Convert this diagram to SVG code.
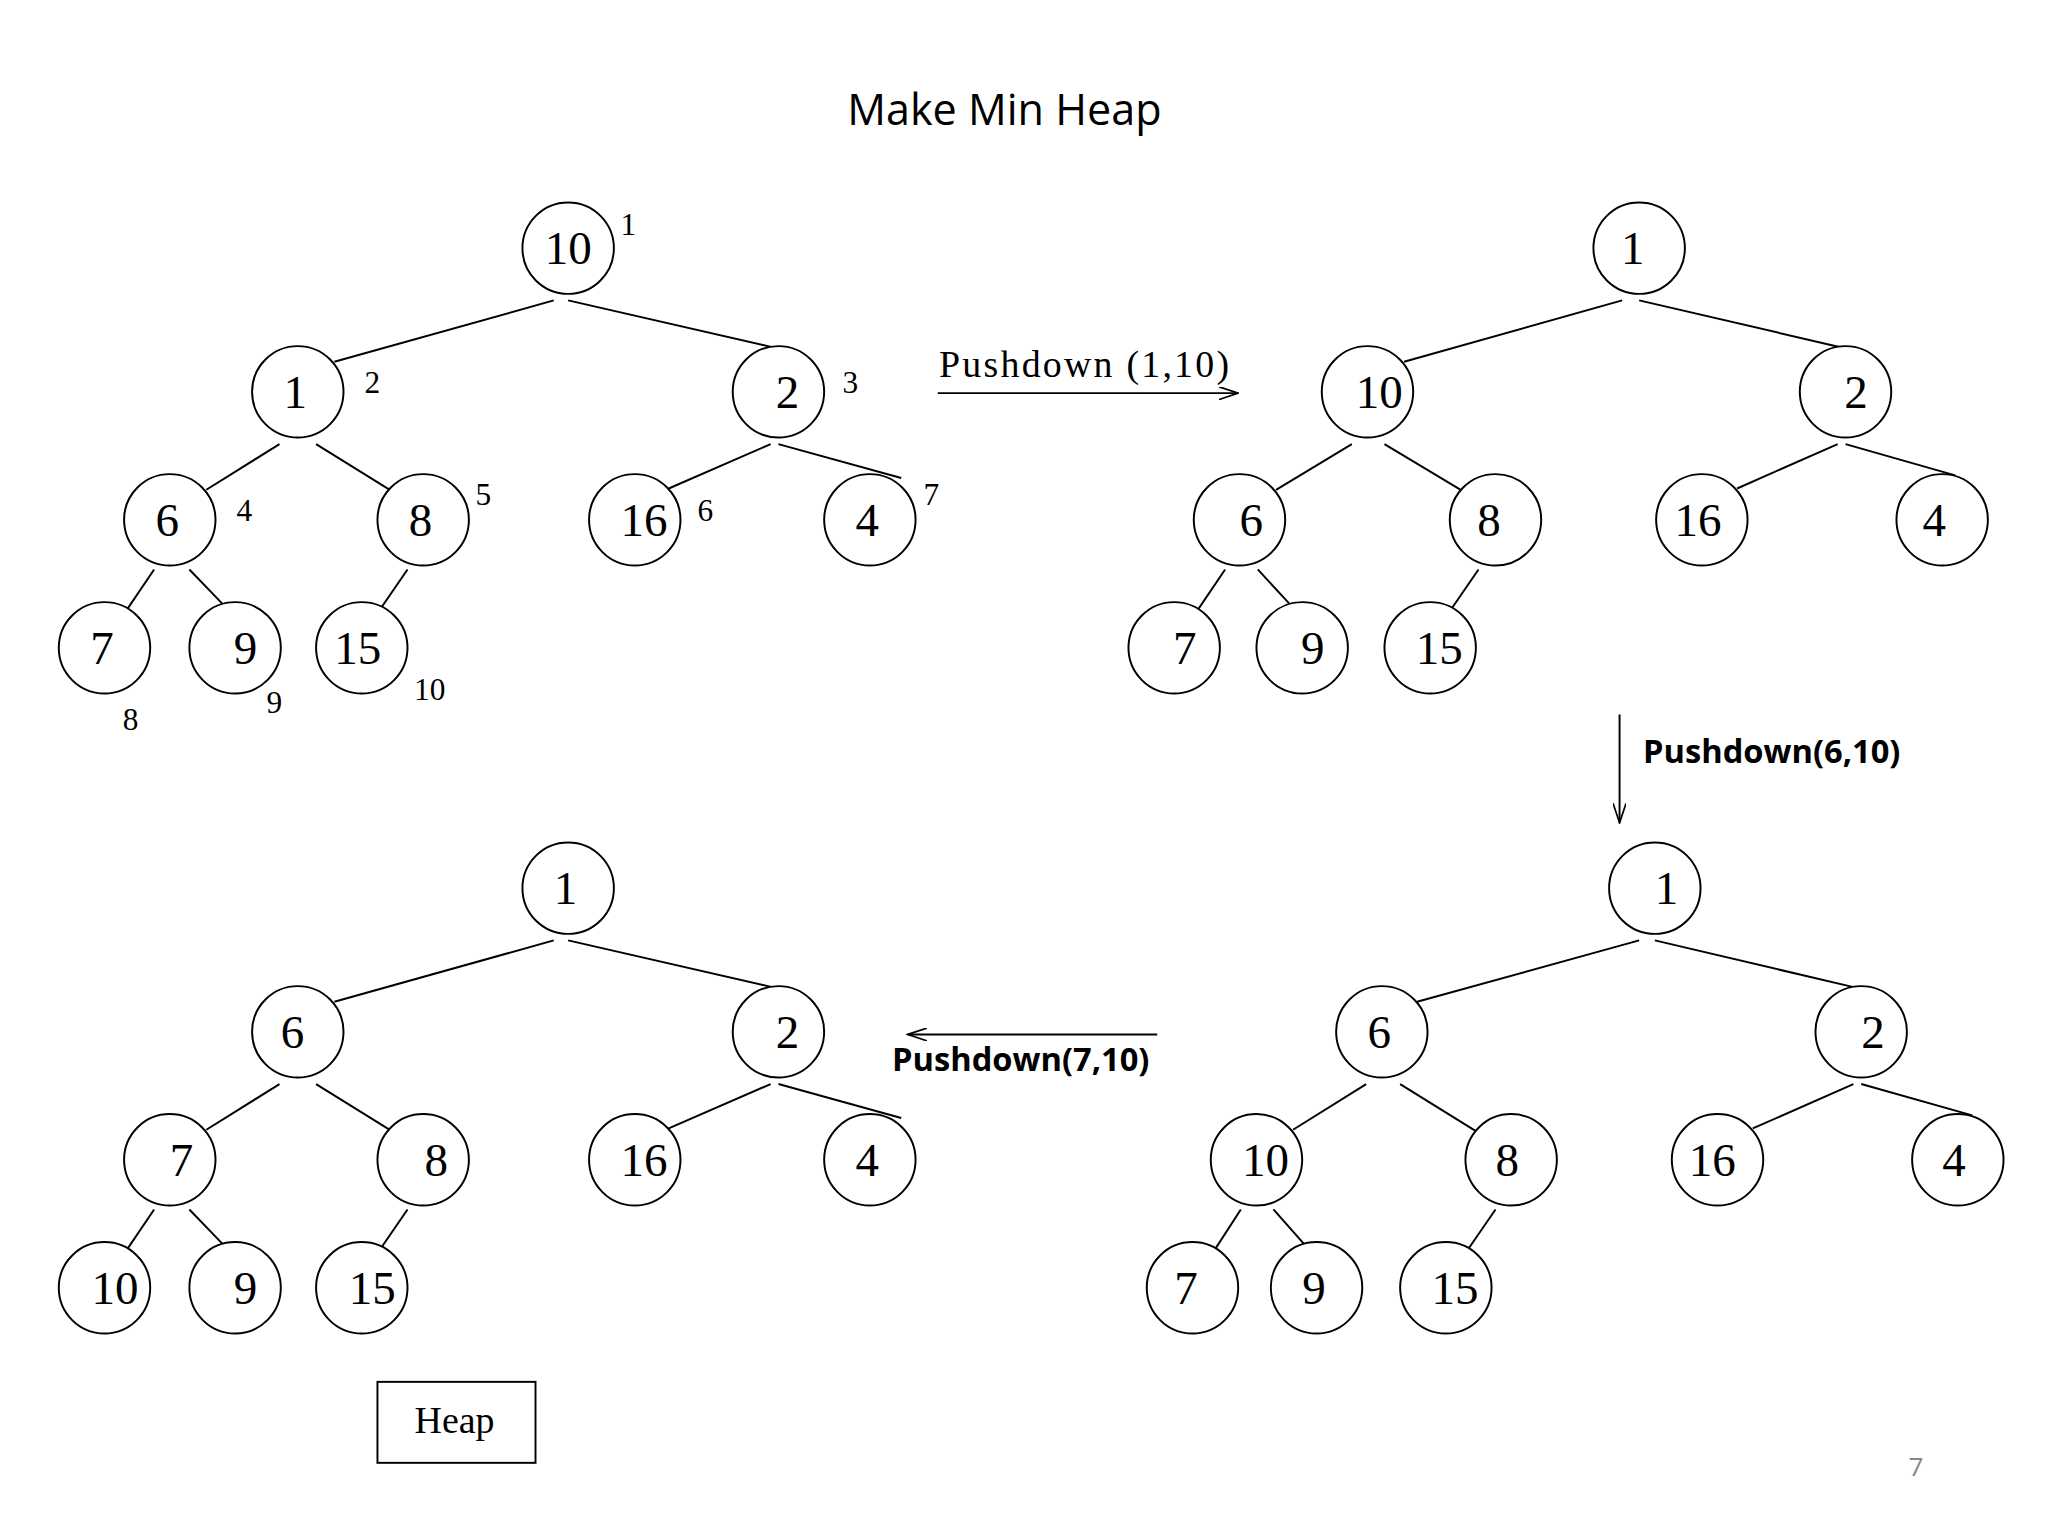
<svg xmlns="http://www.w3.org/2000/svg" width="2048" height="1536" viewBox="0 0 2048 1536">
<defs>
<style>
.n circle{fill:#fff;stroke:#000;stroke-width:1.5}
.n text,.v{font-family:"Liberation Serif",serif;font-size:36px;text-anchor:middle;dominant-baseline:central}
.e line{stroke:#000;stroke-width:1.5}
.ix{font-family:"Liberation Serif",serif;font-size:24px;text-anchor:middle}
.b{font-family:"Open Sans",sans-serif;font-weight:bold;font-size:25px}
</style>
<marker id="ah" markerWidth="16" markerHeight="10" refX="15" refY="5" orient="auto" markerUnits="userSpaceOnUse"><path d="M0,0 L15,5 L0,10" fill="none" stroke="#000" stroke-width="1.3"/></marker>
</defs>
<rect width="2048" height="1536" fill="#fff"/>
<g transform="scale(1.3061)">
<text x="769" y="96" font-family="Open Sans,sans-serif" font-size="33" text-anchor="middle">Make Min Heap</text>
<g id="connectors" class="e">
<line x1="424" y1="230" x2="256" y2="277"/><line x1="435" y1="230" x2="592" y2="266"/><line x1="214" y1="340" x2="158" y2="375"/><line x1="242" y1="340" x2="300" y2="376"/><line x1="590" y1="340" x2="512" y2="374"/><line x1="596" y1="340" x2="690" y2="366"/><line x1="118" y1="436" x2="95" y2="470"/><line x1="145" y1="436" x2="170" y2="462"/><line x1="312" y1="436" x2="290" y2="468"/>
<line x1="1242" y1="230" x2="1075" y2="277"/><line x1="1255" y1="230" x2="1410" y2="266"/><line x1="1035" y1="340" x2="977" y2="375"/><line x1="1060" y1="340" x2="1120" y2="376"/><line x1="1407" y1="340" x2="1330" y2="374"/><line x1="1413" y1="340" x2="1497" y2="364"/><line x1="938" y1="436" x2="915" y2="470"/><line x1="963" y1="436" x2="987" y2="462"/><line x1="1132" y1="436" x2="1110" y2="468"/>
<line x1="1255" y1="720" x2="1085" y2="767"/><line x1="1267" y1="720" x2="1420" y2="756"/><line x1="1046" y1="830" x2="990" y2="865"/><line x1="1072" y1="830" x2="1130" y2="866"/><line x1="1419" y1="830" x2="1342" y2="864"/><line x1="1425" y1="830" x2="1510" y2="854"/><line x1="950" y1="926" x2="928" y2="960"/><line x1="975" y1="926" x2="998" y2="952"/><line x1="1145" y1="926" x2="1123" y2="958"/>
<line x1="424" y1="720" x2="256" y2="767"/><line x1="435" y1="720" x2="592" y2="756"/><line x1="214" y1="830" x2="158" y2="865"/><line x1="242" y1="830" x2="300" y2="866"/><line x1="590" y1="830" x2="512" y2="864"/><line x1="596" y1="830" x2="690" y2="856"/><line x1="118" y1="926" x2="95" y2="960"/><line x1="145" y1="926" x2="170" y2="952"/><line x1="312" y1="926" x2="290" y2="958"/>
<line x1="718" y1="301" x2="948" y2="301" marker-end="url(#ah)"/>
<line x1="1240" y1="547" x2="1240" y2="630" marker-end="url(#ah)"/>
<line x1="886" y1="792" x2="695" y2="792" marker-end="url(#ah)"/>
</g>
<g id="t1" class="n">
<circle cx="435" cy="190" r="35"/><text x="435" y="190">10</text>
<circle cx="228" cy="300" r="35"/><text x="226" y="300">1</text>
<circle cx="596" cy="300" r="35"/><text x="603" y="300">2</text>
<circle cx="130" cy="398" r="35"/><text x="128" y="398">6</text>
<circle cx="324" cy="398" r="35"/><text x="322" y="398">8</text>
<circle cx="486" cy="398" r="35"/><text x="493" y="398">16</text>
<circle cx="666" cy="398" r="35"/><text x="664" y="398">4</text>
<circle cx="80" cy="496" r="35"/><text x="78" y="496">7</text>
<circle cx="180" cy="496" r="35"/><text x="188" y="496">9</text>
<circle cx="277" cy="496" r="35"/><text x="274" y="496">15</text>
</g>
<g id="idx" class="ix">
<text x="481" y="180">1</text><text x="285" y="301">2</text><text x="651" y="301">3</text><text x="187" y="399">4</text><text x="370" y="387">5</text><text x="540" y="399">6</text><text x="713" y="387">7</text><text x="100" y="559">8</text><text x="210" y="546">9</text><text x="329" y="536">10</text>
</g>
<g id="t2" class="n">
<circle cx="1255" cy="190" r="35"/><text x="1250" y="190">1</text>
<circle cx="1047" cy="300" r="35"/><text x="1056" y="300">10</text>
<circle cx="1413" cy="300" r="35"/><text x="1421" y="300">2</text>
<circle cx="949" cy="398" r="35"/><text x="958" y="398">6</text>
<circle cx="1145" cy="398" r="35"/><text x="1140" y="398">8</text>
<circle cx="1303" cy="398" r="35"/><text x="1300" y="398">16</text>
<circle cx="1487" cy="398" r="35"/><text x="1481" y="398">4</text>
<circle cx="899" cy="496" r="35"/><text x="907" y="496">7</text>
<circle cx="997" cy="496" r="35"/><text x="1005" y="496">9</text>
<circle cx="1095" cy="496" r="35"/><text x="1102" y="496">15</text>
</g>
<g id="t3" class="n">
<circle cx="1267" cy="680" r="35"/><text x="1276" y="680">1</text>
<circle cx="1058" cy="790" r="35"/><text x="1056" y="790">6</text>
<circle cx="1425" cy="790" r="35"/><text x="1434" y="790">2</text>
<circle cx="962" cy="888" r="35"/><text x="969" y="888">10</text>
<circle cx="1157" cy="888" r="35"/><text x="1154" y="888">8</text>
<circle cx="1315" cy="888" r="35"/><text x="1311" y="888">16</text>
<circle cx="1499" cy="888" r="35"/><text x="1496" y="888">4</text>
<circle cx="913" cy="986" r="35"/><text x="908" y="986">7</text>
<circle cx="1008" cy="986" r="35"/><text x="1006" y="986">9</text>
<circle cx="1107" cy="986" r="35"/><text x="1114" y="986">15</text>
</g>
<g id="t4" class="n">
<circle cx="435" cy="680" r="35"/><text x="433" y="680">1</text>
<circle cx="228" cy="790" r="35"/><text x="224" y="790">6</text>
<circle cx="596" cy="790" r="35"/><text x="603" y="790">2</text>
<circle cx="130" cy="888" r="35"/><text x="139" y="888">7</text>
<circle cx="324" cy="888" r="35"/><text x="334" y="888">8</text>
<circle cx="486" cy="888" r="35"/><text x="493" y="888">16</text>
<circle cx="666" cy="888" r="35"/><text x="664" y="888">4</text>
<circle cx="80" cy="986" r="35"/><text x="88" y="986">10</text>
<circle cx="180" cy="986" r="35"/><text x="188" y="986">9</text>
<circle cx="277" cy="986" r="35"/><text x="285" y="986">15</text>
</g>
<g id="labels">
<text x="719" y="289" font-family="Liberation Serif,serif" font-size="29" textLength="222">Pushdown (1,10)</text>
<text x="1258" y="584" class="b">Pushdown(6,10)</text>
<text x="683" y="820" class="b">Pushdown(7,10)</text>
</g>
<g id="heap">
<rect x="289" y="1058" width="121" height="62" fill="none" stroke="#000" stroke-width="1.5"/>
<text x="348" y="1097" font-family="Liberation Serif,serif" font-size="29" text-anchor="middle">Heap</text>
</g>
<text x="1467" y="1130" font-family="Open Sans,sans-serif" font-size="20" fill="#888" text-anchor="middle">7</text>
</g>
</svg>
